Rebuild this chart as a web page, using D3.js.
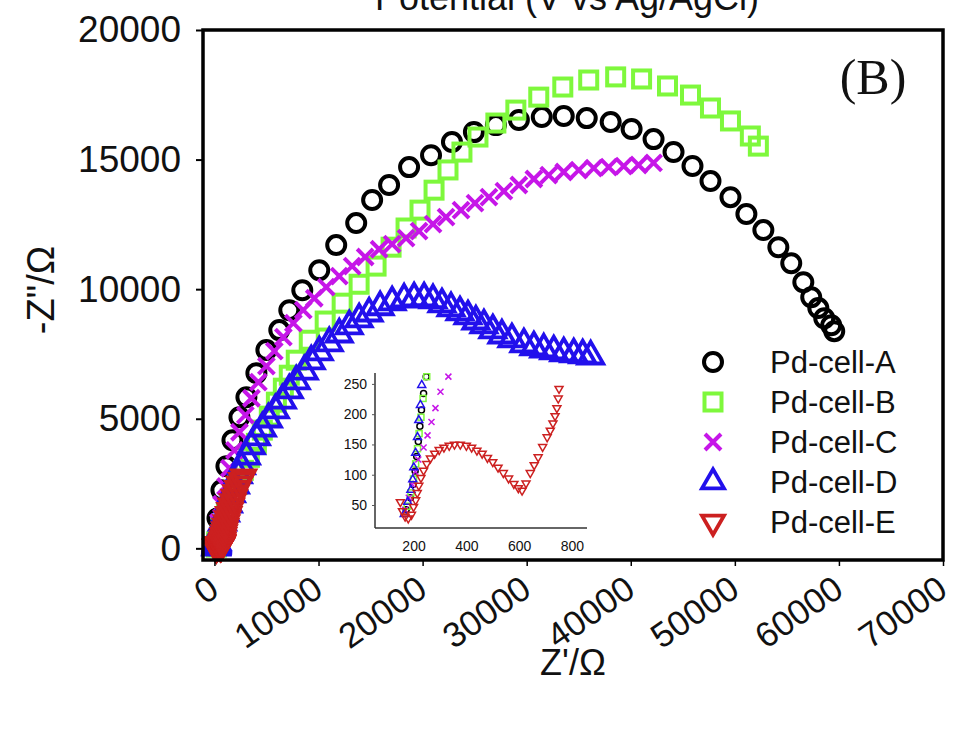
<!DOCTYPE html>
<html><head><meta charset="utf-8">
<script src="https://cdn.jsdelivr.net/npm/d3@7/dist/d3.min.js"></script>
<style>
body{margin:0;background:#fff}
svg{display:block}
text{font-family:"Liberation Sans",Arial,sans-serif;fill:#111}
</style>
</head><body>
<svg id="chart" width="956" height="751"></svg>
<script>
// ---------------- data ----------------
const seriesNames = ["Pd-cell-A","Pd-cell-B","Pd-cell-C","Pd-cell-D","Pd-cell-E"];
const seriesColors = ["#000000","#7ef83c","#c616e8","#2210ec","#cc2020"];
const seriesShapes = ["circle","square","cross","triUp","triDown"];
const xTickValues = [0,10000,20000,30000,40000,50000,60000,70000];
const yTickValues = [0,5000,10000,15000,20000];
const insetXTicks = [200,400,600,800];
const insetYTicks = [50,100,150,200,250];

// [Z', -Z''] pairs (ohm)
const cellA = [[172,42],[188,62],[198,84],[206,106],[212,130],[218,155],[224,180],[230,207],[238,234],[248,262],
  [290,1160],[670,2240],[1150,3170],[1730,4170],[2400,5060],[3070,5830],[4030,6760],[4990,7650],[6230,8420],[7190,9190],
  [8440,9960],[10070,10730],[11700,11700],[13620,12550],[15150,13440],[16780,14020],[18700,14710],[20810,15170],[22820,15680],
  [24930,16060],[27040,16330],[29250,16530],[31450,16640],[33560,16680],[35770,16600],[38070,16450],[40080,16180],[42190,15790],
  [44110,15290],[45930,14750],[47660,14170],[49580,13550],[51110,12900],[52740,12280],[54180,11620],[55420,11000],[56580,10270],
  [57340,9690],[58020,9270],[58590,8880],[59260,8610],[59550,8380]];
const cellB = [[176,48],[190,70],[200,93],[208,118],[215,143],[221,168],[228,195],[236,226],[250,262],
  [670,850],[1150,1390],[1630,1930],[2210,2470],[2780,3010],[3360,3510],[4030,4050],[4600,4560],[5270,5100],[5950,5640],
  [6620,6180],[7190,6680],[7860,7260],[9110,8030],[10640,8770],[12270,9460],[13900,10190],[15530,10890],[16970,11620],
  [18410,12360],[19750,13050],[21100,13820],[22440,14600],[23780,15290],[25320,15870],[27040,16410],[28960,16910],[31160,17410],
  [33470,17800],[35960,18070],[38550,18190],[41040,18110],[43530,17840],[45740,17490],[47660,16990],[49580,16490],[51490,15910],
  [52260,15520]];
const cellC = [[168,42],[182,62],[195,84],[207,105],[218,125],[238,145],[253,165],[268,187],[283,210],[302,237],[332,262],
  [380,1000],[670,1700],[1060,2390],[1440,3090],[1920,3780],[2400,4480],[2970,5140],[3550,5790],[4220,6410],[4990,7030],
  [5750,7610],[6620,8150],[7580,8690],[8530,9190],[9590,9650],[10740,10080],[11990,10500],[13230,10890],[14480,11240],
  [15820,11540],[17070,11740],[18410,11970],[19660,12240],[21000,12510],[22250,12780],[23690,13050],[25030,13320],[26370,13550],
  [27810,13780],[29250,14020],[30690,14250],[32120,14400],[33560,14520],[35000,14590],[36440,14670],[37880,14710],[39320,14750],
  [40750,14790],[42190,14870]];
const cellD = [[165,35],[178,55],[190,75],[197,92],[201,112],[208,136],[215,162],[220,190],[226,215],[231,248],
  [480,660],[770,1000],[1060,1350],[1340,1700],[1630,2090],[2010,2430],[2300,2820],[2590,3170],[3070,3550],[3550,3940],
  [4030,4290],[4600,4630],[5180,4980],[5850,5330],[6520,5710],[7190,6100],[7860,6450],[8630,6830],[9300,7220],[10070,7570],
  [11030,7920],[11990,8260],[12950,8570],[13900,8840],[14860,9070],[15920,9310],[17070,9500],[18220,9610],[19180,9650],
  [20140,9650],[21000,9580],[21860,9420],[22730,9270],[23590,9110],[24360,8960],[25120,8760],[25890,8610],[26750,8420],
  [27620,8220],[28580,8070],[29730,7880],[30690,7760],[31640,7680],[32600,7610],[33560,7530],[34520,7490],[35380,7450],
  [36150,7410]];
const cellE = [[150,55],[158,40],[168,31],[180,28],[192,34],[200,47],[208,58],[214,70],[220,82],[228,95],[238,107],
  [250,118],[264,127],[280,135],[297,141],[315,145],[335,148],[355,150],[377,150],[400,148],[420,145],[440,140],[460,135],
  [480,128],[500,121],[520,112],[540,103],[560,94],[580,85],[597,78],[611,74],[626,86],[642,103],[657,116],[672,129],
  [689,146],[706,162],[718,173],[728,185],[736,197],[743,210],[748,226],[751,242],
  [770,300],[810,390],[860,490],[920,600],[990,720],[1070,850],[1160,990],[1260,1140],[1370,1300],[1490,1460],
  [1620,1630],[1760,1800],[1910,1970],[2070,2140],[2240,2310],[2420,2470],[2610,2620],[2800,2750]];
const allSeries = [cellA,cellB,cellC,cellD,cellE];

// ---------------- drawing ----------------
const svg = d3.select("#chart");
const x = d3.scaleLinear().domain([-1100,70000]).range([203,943]);
const y = d3.scaleLinear().domain([-450,20000]).range([560,30]);

function marker(g, shape, size, color, sw){
  const s = size/2;
  if(shape==="circle"){
    g.append("circle").attr("r",s).attr("fill","none").attr("stroke",color).attr("stroke-width",sw);
  } else if(shape==="square"){
    g.append("rect").attr("x",-s).attr("y",-s).attr("width",size).attr("height",size)
     .attr("fill","none").attr("stroke",color).attr("stroke-width",sw);
  } else if(shape==="cross"){
    g.append("path").attr("d",`M${-s},${-s}L${s},${s}M${-s},${s}L${s},${-s}`)
     .attr("fill","none").attr("stroke",color).attr("stroke-width",sw);
  } else {
    const h = size*0.866, dir = shape==="triUp"?1:-1;
    g.append("path").attr("d",`M0,${-dir*h*2/3}L${s},${dir*h/3}L${-s},${dir*h/3}Z`)
     .attr("fill","none").attr("stroke",color).attr("stroke-width",sw).attr("stroke-linejoin","miter");
  }
}
const mainSize = {circle:18,square:17,cross:16,triUp:25,triDown:23};
const mainSW = {circle:4,square:4,cross:4,triUp:3.8,triDown:3.8};
const legendSize = {circle:18,square:17,cross:16,triUp:22,triDown:22};

// title (cut off at top, as in the source figure)
svg.append("text").attr("x",567).attr("y",10).attr("text-anchor","middle")
  .attr("font-size",36).text("Potential (V vs Ag/AgCl)");

// series
const plotG = svg.append("g");
allSeries.forEach((data,i)=>{
  const sg = plotG.append("g");
  data.forEach(d=>{
    const g = sg.append("g").attr("transform",`translate(${x(d[0])},${y(d[1])})`);
    marker(g, seriesShapes[i], mainSize[seriesShapes[i]], seriesColors[i], mainSW[seriesShapes[i]]);
  });
});

// frame
svg.append("rect").attr("x",203).attr("y",30).attr("width",740).attr("height",530)
  .attr("fill","none").attr("stroke","#000").attr("stroke-width",3.5);

// axes
const yAxis = svg.append("g").attr("transform","translate(203,0)")
  .call(d3.axisLeft(y).tickValues(yTickValues).tickSize(7).tickPadding(15).tickFormat(d3.format("d")));
yAxis.select(".domain").remove();
yAxis.selectAll("line").attr("stroke","#000").attr("stroke-width",2);
yAxis.selectAll("text").attr("font-size",37).attr("fill","#111").attr("font-family","Liberation Sans, Arial, sans-serif");

const xAxis = svg.append("g").attr("transform","translate(0,560)")
  .call(d3.axisBottom(x).tickValues(xTickValues).tickSize(6).tickFormat(d3.format("d")));
xAxis.select(".domain").remove();
xAxis.selectAll("line").attr("stroke","#000").attr("stroke-width",1.5);
xAxis.selectAll("text").attr("font-size",35).attr("fill","#111")
  .attr("font-family","Liberation Sans, Arial, sans-serif")
  .attr("text-anchor","end").attr("dy",null).attr("y",null)
  .attr("transform","translate(6,34) rotate(-35)");

// axis titles
svg.append("text").attr("transform","translate(54,290) rotate(-90)").attr("text-anchor","middle")
  .attr("font-size",38).text("-Z\"/\u03A9");
svg.append("text").attr("x",573).attr("y",675).attr("text-anchor","middle")
  .attr("font-size",36).text("Z'/\u03A9");

// panel label
svg.append("text").attr("x",873).attr("y",94).attr("text-anchor","middle")
  .style("font-family","Liberation Serif, Times New Roman, serif")
  .attr("font-size",50).text("(B)");

// legend
const legendG = svg.append("g");
seriesNames.forEach((name,i)=>{
  const ly = 362 + i*40;
  const g = legendG.append("g").attr("transform",`translate(713,${ly})`);
  marker(g, seriesShapes[i], legendSize[seriesShapes[i]], seriesColors[i], mainSW[seriesShapes[i]]);
  legendG.append("text").attr("x",770).attr("y",ly).attr("dy","0.36em").attr("font-size",31).text(name);
});

// inset
const xi = d3.scaleLinear().domain([54,857]).range([375,587]);
const yi = d3.scaleLinear().domain([12,268]).range([528,373]);
const defs = svg.append("defs");
defs.append("clipPath").attr("id","insetClip").append("rect")
  .attr("x",375).attr("y",373).attr("width",212).attr("height",155);
const insetG = svg.append("g").attr("clip-path","url(#insetClip)");
const inSize = {circle:6,square:6,cross:6,triUp:8,triDown:8};
allSeries.forEach((data,i)=>{
  data.filter(d=>d[0]<=900 && d[1]<=320).forEach(d=>{
    const g = insetG.append("g").attr("transform",`translate(${xi(d[0])},${yi(d[1])})`);
    marker(g, seriesShapes[i], inSize[seriesShapes[i]], seriesColors[i], 1.5);
  });
});
const iyAxis = svg.append("g").attr("transform","translate(375,0)")
  .call(d3.axisLeft(yi).tickValues(insetYTicks).tickSize(3).tickPadding(5));
iyAxis.select(".domain").attr("d","M0,373V528").attr("stroke","#333").attr("stroke-width",1.5);
iyAxis.selectAll("line").attr("stroke","#555");
iyAxis.selectAll("text").attr("font-size",14).attr("fill","#333");
const ixAxis = svg.append("g").attr("transform","translate(0,528)")
  .call(d3.axisBottom(xi).tickValues(insetXTicks).tickSize(0).tickPadding(13));
ixAxis.select(".domain").attr("d","M375,0H587").attr("stroke","#333").attr("stroke-width",1.5);
ixAxis.selectAll("text").attr("font-size",14).attr("fill","#333");
</script>
</body></html>
